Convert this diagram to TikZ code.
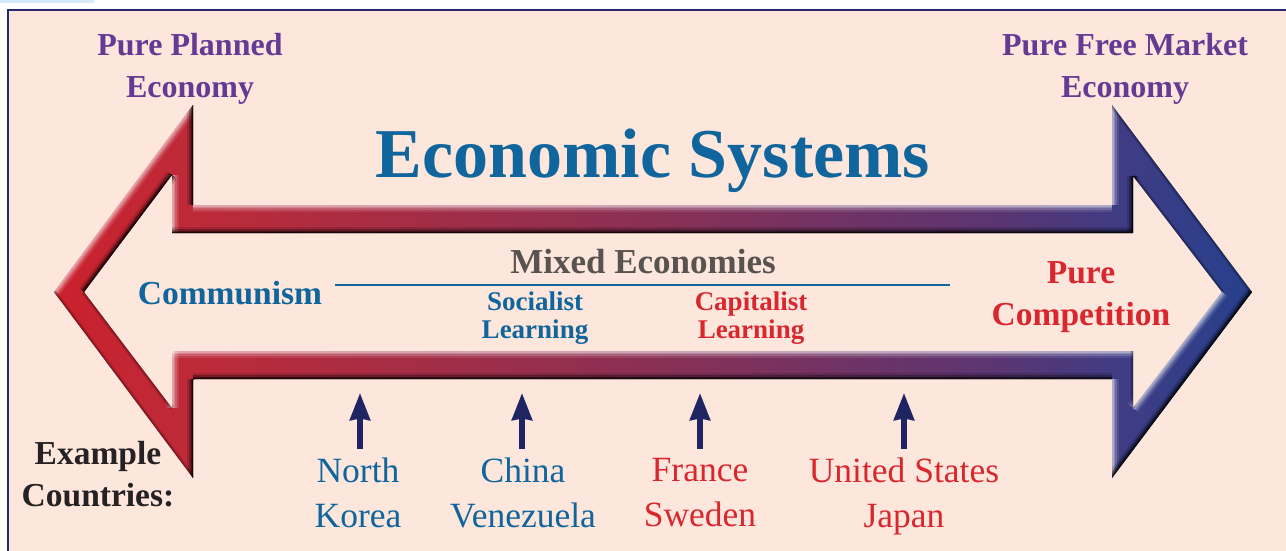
\documentclass[tikz,border=0pt]{standalone}
\usepackage{fontspec}
\setmainfont{Liberation Serif}
\usetikzlibrary{arrows.meta}
\definecolor{panel}{HTML}{FDE7DD}
\definecolor{framec}{HTML}{27296B}
\definecolor{tabc}{HTML}{D6E9F8}
\definecolor{purp}{HTML}{663A93}
\definecolor{bluet}{HTML}{0F659C}
\definecolor{redt}{HTML}{D9272E}
\definecolor{greyt}{HTML}{58534F}
\definecolor{darkt}{HTML}{262223}
\definecolor{arrowc}{HTML}{1F2560}
\definecolor{ga}{HTML}{CB202D}
\definecolor{gb}{HTML}{BE2A38}
\definecolor{gc}{HTML}{8A3054}
\definecolor{gd}{HTML}{5A3572}
\definecolor{ge}{HTML}{3F3C84}
\definecolor{gf}{HTML}{27408C}
\pgfdeclarehorizontalshading{ecoshade}{100bp}{
  color(0bp)=(ga);
  color(25bp)=(ga);
  color(30.5bp)=(gb);
  color(50bp)=(gc);
  color(64.5bp)=(gd);
  color(69.5bp)=(ge);
  color(75bp)=(gf);
  color(100bp)=(gf)}
\tikzset{
  x=1pt,y=-1pt,
  lab/.style={font=\bfseries\fontsize{32}{42}\selectfont,align=center,inner sep=0pt},
  lablarge/.style={font=\bfseries\fontsize{33.5}{42}\selectfont,align=center,inner sep=0pt},
  sublab/.style={font=\bfseries\fontsize{27}{28}\selectfont,align=center,inner sep=0pt},
  country/.style={font=\fontsize{35.5}{45}\selectfont,align=center,inner sep=0pt},
  upmark/.style={arrowc,line width=5.5pt,-{Stealth[length=27pt,width=20pt,inset=1.5pt]}},
}
\newcommand{\lightedge}[1]{%
  \foreach \w/\o in {13/.10,9/.16,6/.22,3/.28}{\draw[white,line width=\w pt,opacity=\o,line join=miter] #1;}}
\newcommand{\darkedge}[1]{%
  \foreach \w/\o in {12/.14,8/.28,5/.42,2.5/.6}{\draw[black,line width=\w pt,opacity=\o,line join=miter] #1;}}
\newcommand{\softedge}[1]{%
  \foreach \w/\o in {6/.08,4/.14,2/.2}{\draw[black,line width=\w pt,opacity=\o] #1;}}
\begin{document}
\begin{tikzpicture}
\useasboundingbox (0,0) rectangle (1286,551);
\fill[white] (0,0) rectangle (1286,551);
\fill[tabc] (0,0) rectangle (94,3);
\fill[panel] (8,10) rectangle (1286,551);
\draw[framec,line width=2.8pt] (8,551)--(8,10)--(1286,10);
% ring arrow
\begin{scope}[even odd rule]
  \clip (54,292)--(193,105)--(193,205)--(1112,205)--(1112,105)--(1252,292)--(1112,478)--(1112,379)--(193,379)--(193,478)--cycle
 (84,292)--(172,175)--(172,233)--(1133,233)--(1133,176)--(1222,292)--(1133,408)--(1133,351)--(172,351)--(172,408)--cycle;
  \shade[shading=ecoshade] (54,100) rectangle (1252,480);
  \lightedge{(54,292)--(193,105)}
  \lightedge{(193,205)--(1112,205)}
  \lightedge{(1112,105)--(1112,205)}
  \lightedge{(172,233)--(172,175)}
  \lightedge{(172,351)--(1133,351)}
  \lightedge{(172,351)--(172,408)}
  \lightedge{(1112,379)--(1112,478)}
  \lightedge{(1133,408)--(1222,292)}
  \darkedge{(84,292)--(172,175)}
  \darkedge{(172,233)--(1133,233)}
  \darkedge{(193,105)--(193,205)}
  \darkedge{(193,379)--(1112,379)}
  \darkedge{(193,379)--(193,478)}
  \darkedge{(1112,478)--(1252,292)}
  \darkedge{(1133,176)--(1133,233)}
  \softedge{(54,292)--(193,478)}
  \softedge{(1112,105)--(1252,292)}
  \softedge{(84,292)--(172,408)}
  \softedge{(1222,292)--(1133,176)}
  \softedge{(1133,351)--(1133,408)}
\end{scope}
% titles
\node[lab,text=purp] (planned) at (190,69) {Pure Planned\\Economy};
\node[lab,text=purp] (free) at (1125,69) {Pure Free Market\\Economy};
\node[inner sep=0pt,text=bluet,font=\bfseries\fontsize{70}{70}\selectfont] (title) at (653,161) {Economic Systems};
\node[lablarge,text=bluet] (communism) at (230,293) {Communism};
\node[inner sep=0pt,text=greyt,font=\bfseries\fontsize{35}{42}\selectfont] (mixed) at (643,262) {Mixed Economies};
\coordinate (ruleA) at (335,285);
\coordinate (ruleB) at (950,285);
\draw[bluet,line width=2.8pt] (ruleA)--(ruleB);
\node[sublab,text=bluet] (socialist) at (535,318) {Socialist\\Learning};
\node[sublab,text=redt] (capitalist) at (751,318) {Capitalist\\Learning};
\node[lablarge,text=redt] (pure) at (1081,297) {Pure\\Competition};
\node[lablarge,text=darkt] (example) at (98,474) {Example\\Countries:};
% countries
\node[country,text=bluet] (korea) at (358,493) {North\\Korea};
\node[country,text=bluet] (china) at (523,493) {China\\Venezuela};
\node[country,text=redt] (france) at (700,493) {France\\Sweden};
\node[country,text=redt] (usa) at (904,496) {United States\\Japan};
\coordinate (ka) at (360,393);
\coordinate (ca) at (522,393);
\coordinate (fa) at (700,393);
\coordinate (ua) at (904,393);
\coordinate (kb) at (360,449);
\coordinate (cb) at (522,449);
\coordinate (fb) at (700,449);
\coordinate (ub) at (904,449);
\draw[upmark] (kb)--(ka);
\draw[upmark] (cb)--(ca);
\draw[upmark] (fb)--(fa);
\draw[upmark] (ub)--(ua);
\end{tikzpicture}
\end{document}
